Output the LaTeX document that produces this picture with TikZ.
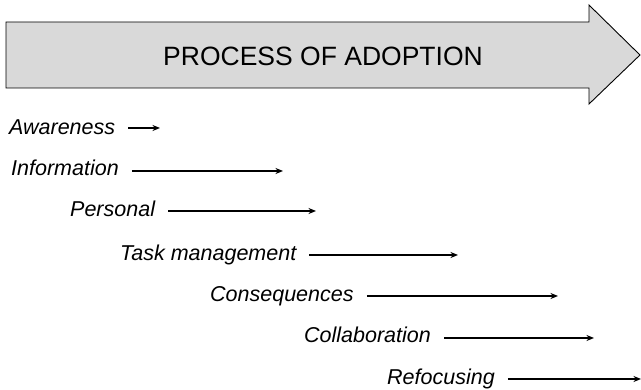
\documentclass[tikz,border=0pt]{standalone}
\usepackage{fontspec}
\setmainfont{Liberation Sans}
\usetikzlibrary{arrows.meta}
\begin{document}
\begin{tikzpicture}[x=1pt,y=-1pt,
  lbl/.style={anchor=base west,inner xsep=0pt,inner ysep=0pt,font=\itshape\fontsize{21.5}{25}\selectfont},
  arr/.style={line width=1.2pt,-{Stealth[length=7.5pt,width=6pt]},shorten <=13pt},
  big/.style={draw=black,line width=0.9pt,fill=black!15}]
\useasboundingbox (0,0) rectangle (641,390);
\draw[big] (6,22) -- (589,22) -- (589,5) -- (640,55) -- (589,104) -- (589,88) -- (6,88) -- cycle;
\node[anchor=base,inner sep=0pt,font=\fontsize{26.5}{30}\selectfont] (title) at (323,66) {PROCESS OF ADOPTION};
\node[lbl] (aw) at (9,135) {Awareness};
\node[lbl] (in) at (11,176) {Information};
\node[lbl] (pe) at (70,217) {Personal};
\node[lbl] (ta) at (120,261) {Task management};
\node[lbl] (co) at (210,302) {Consequences};
\node[lbl] (cl) at (304,343) {Collaboration};
\node[lbl] (re) at (387,385) {Refocusing};
\coordinate (awE) at (160,128);
\coordinate (inE) at (283,171);
\coordinate (peE) at (316,211);
\coordinate (taE) at (458,255);
\coordinate (coE) at (558,296);
\coordinate (clE) at (594,338);
\coordinate (reE) at (641,379);
\draw[arr] (aw.east |- awE) -- (awE);
\draw[arr] (in.east |- inE) -- (inE);
\draw[arr] (pe.east |- peE) -- (peE);
\draw[arr] (ta.east |- taE) -- (taE);
\draw[arr] (co.east |- coE) -- (coE);
\draw[arr] (cl.east |- clE) -- (clE);
\draw[arr] (re.east |- reE) -- (reE);
\end{tikzpicture}
\end{document}
